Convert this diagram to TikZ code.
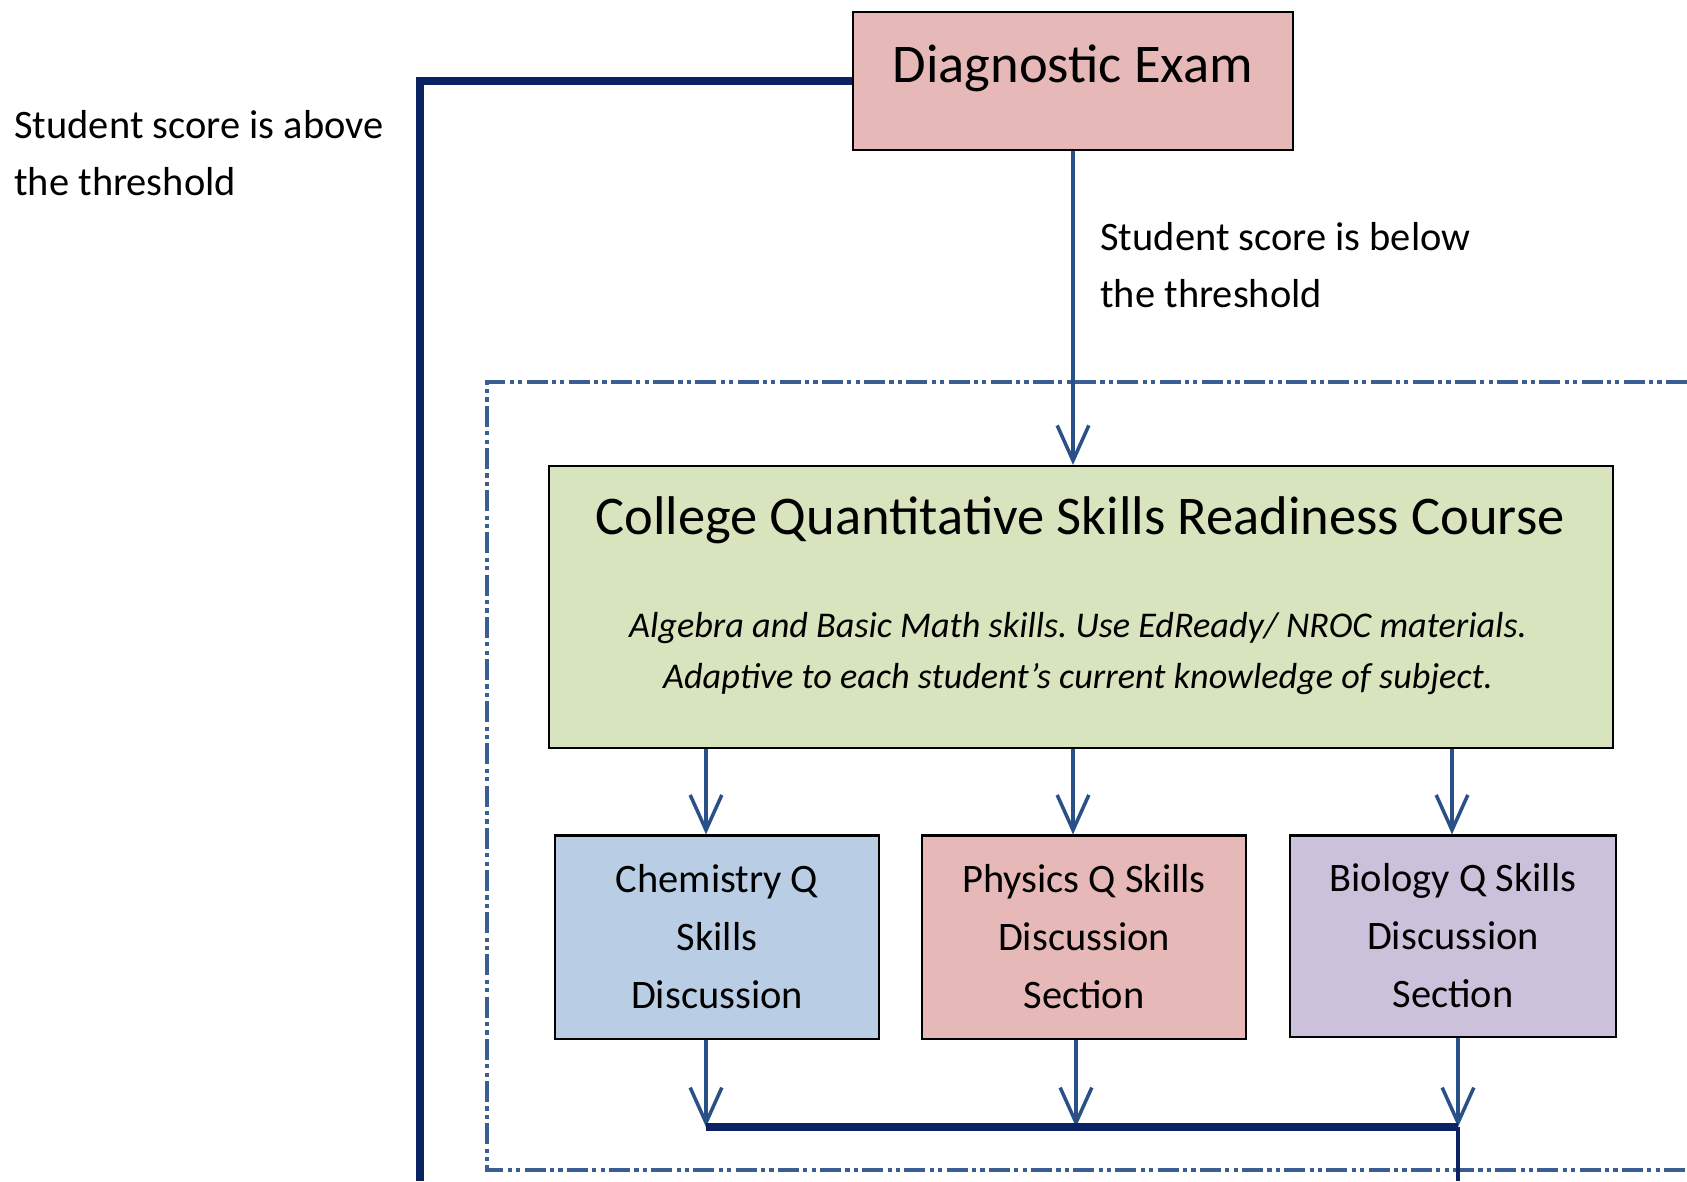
\documentclass[tikz,border=0pt]{standalone}
\usepackage[usenames, dvipsnames]{xcolor}
\usepackage{fontspec}
\setmainfont{Carlito}
\usepackage{tikz}
\usetikzlibrary{arrows.meta, calc}
\frenchspacing

\definecolor{examPink}{HTML}{E6B9B8}
\definecolor{courseGreen}{HTML}{D7E4BD}
\definecolor{chemBlue}{HTML}{B9CDE5}
\definecolor{bioLilac}{HTML}{CCC1DA}
\definecolor{flowBlue}{HTML}{2A5088}
\definecolor{navyLine}{HTML}{0B2363}
\definecolor{frameBlue}{HTML}{3A5D92}

\begin{document}
\begin{tikzpicture}[x=0.01cm, y=-0.01cm,
        box/.style={draw=black, line width=0.6pt, align=center},
        section/.style={box, minimum width=3.24cm, minimum height=2.03cm, font=\fontsize{11.5}{16.5}\selectfont},
        flow/.style={-{Straight Barb[length=10pt, width=9pt]}, line width=1pt, flowBlue},
        passline/.style={line width=2.4pt, navyLine},
        note/.style={anchor=west, align=left, font=\fontsize{11.5}{16}\selectfont}]
        \useasboundingbox (0,0) rectangle (1687,1181);

        \draw[frameBlue, line width=0.9pt, dash pattern=on 6pt off 1.2pt on 1.2pt off 1.2pt on 1.2pt off 1.2pt] (1687,382) -- (487,382) -- (487,1170) -- (1687,1170);

        \node[box, fill=examPink, minimum width=4.4cm, minimum height=1.38cm, font=\fontsize{15.5}{18}\selectfont, text depth=10pt] (diag) at (1073,81) {Diagnostic Exam};
        \node[box, fill=courseGreen, minimum width=10.64cm, minimum height=2.82cm] (course) at (1081,607) {};
        \node[font=\fontsize{15.5}{18}\selectfont] (courseTitle) at (1080,520) {College Quantitative Skills Readiness Course};
        \node[font=\fontsize{10.3}{14.5}\selectfont\itshape, align=center] (courseNote) at (1078,654) {Algebra and Basic Math skills. Use EdReady/ NROC materials.\\Adaptive to each student's current knowledge of subject.};

        \node[section, fill=chemBlue] (chem) at (717,937) {Chemistry Q\\Skills\\Discussion};
        \node[section, fill=examPink] (phys) at (1084,937) {Physics Q Skills\\Discussion\\Section};
        \node[section, fill=bioLilac, minimum width=3.26cm, minimum height=2.01cm] (bio) at (1453,936) {Biology Q Skills\\Discussion\\Section};

        \node[note] (aboveNote) at (2,153) {Student score is above\\the threshold};
        \node[note] (belowNote) at (1088,265) {Student score is below\\the threshold};

        \coordinate (barEnd) at (1458,1127);
        \coordinate (exitBottom) at (1458,1181);
        \coordinate (skipBottom) at (420,1181);

        \draw[flow] (diag.south) -- (course.north -| diag.south);
        \foreach \sec/\up/\down in {chem/-11/-11, phys/-11/-8, bio/-1/5} {
            \draw[flow] ($(course.south -| \sec.north)+(\up,0)$) -- ($(\sec.north)+(\up,0)$);
            \draw[flow] ($(\sec.south)+(\down,0)$) -- ($(\sec.south |- barEnd)+(\down,0)$);
        }
        \draw[passline] ($(chem.south |- barEnd)+(-11,0)$) -- (barEnd);
        \draw[line width=1pt, navyLine] (barEnd) -- (exitBottom);
        \draw[passline] (diag.west) -| (skipBottom);
    \end{tikzpicture}
\end{document}
